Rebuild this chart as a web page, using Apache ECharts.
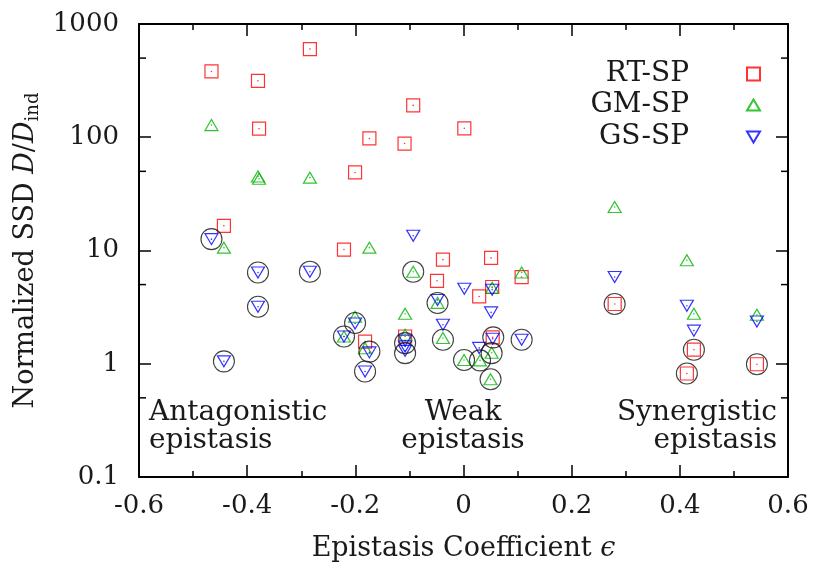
<!DOCTYPE html>
<html>
<head>
<meta charset="utf-8">
<script src="https://cdn.jsdelivr.net/npm/echarts@6/dist/echarts.min.js"></script>
<style>
  html, body { margin: 0; padding: 0; background: #fff; }
  #chart { width: 816px; height: 571px; }
</style>
</head>
<body>
<div id="chart"></div>
<script>
// points: [epistasis coefficient, normalized SSD]
var rtSP = [
  [-0.466, 381], [-0.284, 600], [-0.380, 315], [-0.093, 191], [-0.378, 119],
  [0.0015, 120], [-0.174, 97.6], [-0.109, 88], [-0.2005, 48.9], [-0.443, 16.5],
  [-0.221, 10.2], [-0.038, 8.3], [-0.049, 5.4], [0.051, 8.6], [0.1075, 5.83],
  [0.053, 4.76], [0.029, 3.93], [0.2795, 3.37], [-0.182, 1.57], [-0.108, 1.74],
  [0.054, 1.71], [0.426, 1.33], [0.413, 0.82], [0.5425, 0.99]
];
var gmSP = [
  [-0.466, 128], [-0.380, 45], [-0.378, 43], [-0.284, 44], [-0.443, 10.6],
  [-0.174, 10.6], [-0.093, 6.5], [0.2795, 24.2], [0.413, 8.2], [0.1075, 6.4],
  [0.053, 4.7], [-0.048, 3.45], [-0.108, 2.76], [-0.2005, 2.6], [-0.221, 1.74],
  [-0.182, 1.37], [-0.108, 1.8], [-0.038, 1.69], [0.001, 1.08], [0.0305, 1.07],
  [0.052, 1.25], [0.050, 0.73], [0.426, 2.76], [0.5425, 2.71]
];
var gsSP = [
  [-0.466, 12.6], [-0.093, 13.5], [-0.380, 6.4], [-0.284, 6.5], [-0.380, 3.19],
  [-0.443, 1.05], [0.0015, 4.6], [-0.048, 3.65], [0.053, 4.5], [0.2795, 5.83],
  [-0.2005, 2.27], [-0.221, 1.74], [-0.174, 1.26], [-0.182, 0.855], [-0.108, 1.6],
  [-0.108, 1.42], [-0.108, 1.3], [-0.038, 2.21], [0.029, 1.38], [0.051, 2.84],
  [0.054, 1.66], [0.1075, 1.63], [0.413, 3.25], [0.426, 1.96], [0.5425, 2.36]
];
// points marked with a black circle in the figure
var circled = [
  [-0.466, 12.6], [-0.380, 6.4], [-0.284, 6.5], [-0.380, 3.19], [-0.443, 1.05],
  [-0.093, 6.5], [-0.048, 3.44], [-0.2005, 2.29], [-0.221, 1.74], [-0.174, 1.28],
  [-0.182, 0.855], [-0.108, 1.52], [-0.108, 1.24], [-0.038, 1.63], [0.001, 1.08],
  [0.0305, 1.07], [0.055, 1.71], [0.052, 1.24], [0.050, 0.73], [0.1075, 1.63],
  [0.2795, 3.37], [0.426, 1.33], [0.413, 0.82], [0.5425, 0.99]
];
var yMinorTicks = [0.5, 5, 50, 500];

var FONT = '"DejaVu Serif", "Liberation Serif", serif';
var TXT = '#1a1a1a';
var red = '#ff0000', green = '#00b400', blue = '#0000ff';
var triUp = 'path://M5,0 L10,8.5 L0,8.5 Z';
var triDown = 'path://M0,0 L10,0 L5,8.5 Z';

var chart = echarts.init(document.getElementById('chart'));

function legendFor(name, top) {
  return {
    data: [name], right: 50, top: top, orient: 'vertical', align: 'right',
    itemWidth: 13, itemHeight: 13, selectedMode: false,
    textStyle: { fontFamily: FONT, fontSize: 28, color: TXT, lineHeight: 30, padding: [0, 53, 0, 0] }
  };
}

function scatter(name, data, symbol, color, size) {
  return {
    name: name, type: 'scatter', data: data, symbol: symbol, symbolSize: size,
    itemStyle: { color: 'rgba(0,0,0,0)', borderColor: color, borderWidth: 1.2 },
    emphasis: { disabled: true }, z: 3
  };
}
function dots(data, color) {
  return {
    type: 'scatter', data: data, symbol: 'circle', symbolSize: 1.6, silent: true,
    itemStyle: { color: color }, z: 4
  };
}

var lineStyle = { color: '#000', width: 2 };
var tickLine = { color: '#000', width: 1.5 };

var option = {
  animation: false,
  grid: { left: 139, right: 28, top: 24, bottom: 94, containLabel: false },
  legend: [legendFor('RT-SP', 54), legendFor('GM-SP', 85), legendFor('GS-SP', 117)],
  xAxis: [{
    type: 'value', min: -0.6, max: 0.6, interval: 0.2, position: 'bottom',
    axisLine: { onZero: false, lineStyle: lineStyle },
    axisTick: { inside: true, length: 12, lineStyle: tickLine },
    minorTick: { show: true, splitNumber: 2, length: 6, lineStyle: tickLine },
    splitLine: { show: false },
    axisLabel: {
      margin: 16, fontFamily: FONT, fontSize: 26, color: TXT,
      formatter: function (v) { return Math.abs(v) < 1e-9 ? '0' : String(+v.toFixed(1)); }
    },
    name: '{n|Epistasis Coefficient }{i|ϵ}', nameLocation: 'middle', nameGap: 58,
    nameTextStyle: {
      rich: {
        n: { fontFamily: FONT, fontSize: 27, color: TXT },
        i: { fontFamily: FONT, fontSize: 27, color: TXT, fontStyle: 'italic' }
      }
    }
  }, {
    type: 'value', min: -0.6, max: 0.6, interval: 0.2, position: 'top',
    axisLine: { onZero: false, lineStyle: lineStyle },
    axisTick: { inside: true, length: 12, lineStyle: tickLine },
    minorTick: { show: true, splitNumber: 2, length: 6, lineStyle: tickLine },
    splitLine: { show: false }, axisLabel: { show: false }
  }],
  yAxis: [{
    type: 'log', logBase: 10, min: 0.1, max: 1000, position: 'left',
    axisLine: { onZero: false, lineStyle: lineStyle },
    axisTick: { inside: true, length: 12, lineStyle: tickLine },
    splitLine: { show: false },
    axisLabel: {
      margin: 20, fontFamily: FONT, fontSize: 26, color: TXT,
      formatter: function (v) { return String(v); }
    },
    name: '{n|Normalized SSD }{i|D}{n|/}{i|D}{s|ind}', nameLocation: 'middle', nameGap: 82,
    nameRotate: 90,
    nameTextStyle: {
      rich: {
        n: { fontFamily: FONT, fontSize: 27, color: TXT },
        i: { fontFamily: FONT, fontSize: 27, color: TXT, fontStyle: 'italic' },
        s: { fontFamily: FONT, fontSize: 18, color: TXT, padding: [14, 0, 0, 0] }
      }
    }
  }, {
    type: 'log', logBase: 10, min: 0.1, max: 1000, position: 'right',
    axisLine: { onZero: false, lineStyle: lineStyle },
    axisTick: { inside: true, length: 12, lineStyle: tickLine },
    splitLine: { show: false }, axisLabel: { show: false }
  }],
  graphic: [
    { type: 'text', x: 149, y: 427, silent: true,
      style: { text: 'Antagonistic\nepistasis', font: '28px ' + FONT, fill: TXT, align: 'left', verticalAlign: 'middle', lineHeight: 28 } },
    { type: 'text', x: 463, y: 427, silent: true,
      style: { text: 'Weak\nepistasis', font: '28px ' + FONT, fill: TXT, align: 'center', verticalAlign: 'middle', lineHeight: 28 } },
    { type: 'text', x: 777, y: 427, silent: true,
      style: { text: 'Synergistic\nepistasis', font: '28px ' + FONT, fill: TXT, align: 'right', verticalAlign: 'middle', lineHeight: 28 } }
  ],
  series: [
    scatter('RT-SP', rtSP, 'rect', red, 13),
    scatter('GM-SP', gmSP, triUp, green, [13, 11]),
    scatter('GS-SP', gsSP, triDown, blue, [13, 11]),
    dots(rtSP, red), dots(gmSP, green), dots(gsSP, blue),
    {
      type: 'scatter', data: circled, symbol: 'circle', symbolSize: 21, silent: true,
      itemStyle: { color: 'rgba(0,0,0,0)', borderColor: '#111', borderWidth: 1.1 }, z: 5
    },
    {
      // minor ticks at 5x on both log axes
      type: 'custom', data: yMinorTicks, encode: { y: 0 }, silent: true, z: 6,
      renderItem: function (params, api) {
        var v = api.value(0);
        var l = api.coord([-0.6, v]);
        var r = api.coord([0.6, v]);
        return {
          type: 'group', children: [
            { type: 'line', shape: { x1: l[0], y1: l[1], x2: l[0] + 7, y2: l[1] }, style: { stroke: '#000', lineWidth: 1.5 } },
            { type: 'line', shape: { x1: r[0] - 7, y1: r[1], x2: r[0], y2: r[1] }, style: { stroke: '#000', lineWidth: 1.5 } }
          ]
        };
      }
    }
  ]
};
chart.setOption(option);
</script>
</body>
</html>
